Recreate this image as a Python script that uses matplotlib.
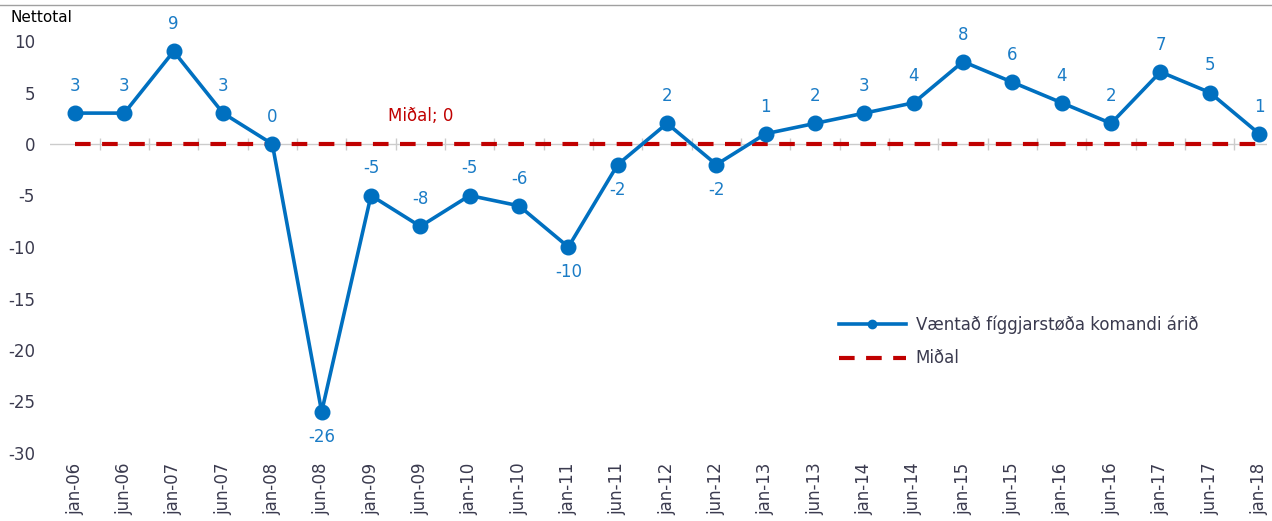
import numpy as np
import matplotlib
matplotlib.use("Agg")
import matplotlib.pyplot as plt
from matplotlib.lines import Line2D

categories = ["jan-06", "jun-06", "jan-07", "jun-07", "jan-08", "jun-08", "jan-09",
              "jun-09", "jan-10", "jun-10", "jan-11", "jun-11", "jan-12", "jun-12",
              "jan-13", "jun-13", "jan-14", "jun-14", "jan-15", "jun-15", "jan-16",
              "jun-16", "jan-17", "jun-17", "jan-18"]
values = [3, 3, 9, 3, 0, -26, -5, -8, -5, -6, -10, -2, 2, -2, 1, 2, 3, 4, 8, 6, 4, 2, 7, 5, 1]
mean_values = [0] * len(categories)
label_below = ["jun-08", "jan-11", "jun-11", "jun-12"]
series_name = "Væntað fíggjarstøða komandi árið"
mean_name = "Miðal"
mean_label = "Miðal; 0"
y_ticks = [-30, -25, -20, -15, -10, -5, 0, 5, 10]

BLUE = "#0070C0"
LBLUE = "#1B7CC6"
RED = "#C00000"
TXT = "#3A3A4E"
FS = 12

plt.rcParams['font.family'] = ['DejaVu Sans']

W, H = 1272, 521
fig = plt.figure(figsize=(W / 100, H / 100), dpi=100)
left_px, right_px = 50.3, 1267
top_px, bot_px = 41, 453
ax = fig.add_axes([left_px / W, 1 - bot_px / H, (right_px - left_px) / W, (bot_px - top_px) / H])

x = np.arange(len(categories))
ax.set_xlim(-0.5, len(categories) - 1 + 0.16)
ax.set_ylim(-30, 10)

# axis line at zero with boundary tick marks
ax.axhline(0, color="#CCCCCC", lw=1, zorder=1)
bounds = np.arange(len(categories) - 1) + 0.5
ax.vlines(bounds, -0.6, 0.6, color="#CCCCCC", lw=1, zorder=1)

# mean line
mline, = ax.plot(x, mean_values, color=RED, lw=3, zorder=2, solid_capstyle="butt",
                 dash_capstyle="butt")
mline.set_dashes((3.75, 2.75))

# series
ax.plot(x, values, color=BLUE, lw=2.6, marker="o", markersize=10.5, zorder=3, clip_on=False)

for xi, v, c in zip(x, values, categories):
    if c in label_below:
        ax.annotate(str(v), (xi, v), xytext=(0, -18), textcoords="offset points",
                    ha="center", va="center", color=LBLUE, fontsize=FS)
    else:
        ax.annotate(str(v), (xi, v), xytext=(0, 19.5), textcoords="offset points",
                    ha="center", va="center", color=LBLUE, fontsize=FS)

ax.annotate(mean_label, (7, 0), xytext=(0, 20), textcoords="offset points",
            ha="center", va="center", color=RED, fontsize=FS)

for s in ax.spines.values():
    s.set_visible(False)

ax.set_yticks(y_ticks)
ax.set_yticklabels([str(t) for t in y_ticks])
ax.tick_params(axis="y", length=0, pad=11, labelsize=FS, labelcolor=TXT)
ax.set_xticks(x)
ax.set_xticklabels(categories, rotation=90)
ax.tick_params(axis="x", length=0, pad=7, labelsize=FS, labelcolor=TXT)

handles = [Line2D([], [], color=BLUE, lw=2.6, marker="o", markersize=6),
           Line2D([], [], color=RED, lw=3, dashes=(3.75, 2.75), dash_capstyle="butt")]
leg = fig.legend(handles, [series_name, mean_name], loc="upper left",
                 bbox_to_anchor=(824 / W, 1 - 300 / H), frameon=False, fontsize=FS,
                 handlelength=4.0, handletextpad=0.6, labelspacing=0.95)
for t in leg.get_texts():
    t.set_color(TXT)

fig.text(10 / W, 1 - 17 / H, "Nettotal", ha="left", va="center", fontsize=11, color="black")
fig.add_artist(Line2D([0, 1], [1 - 5 / H, 1 - 5 / H], transform=fig.transFigure,
                      color="#A0A0A0", lw=1))

fig.savefig("out.png", dpi=100)
